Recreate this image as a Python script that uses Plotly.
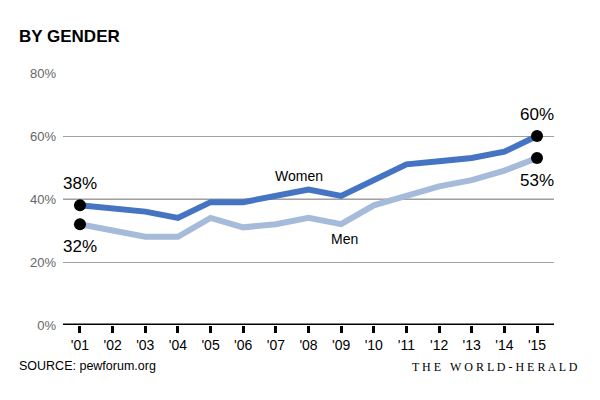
import plotly.graph_objects as go

years = ["'01", "'02", "'03", "'04", "'05", "'06", "'07", "'08", "'09", "'10", "'11", "'12", "'13", "'14", "'15"]
women = [38, 37, 36, 34, 39, 39, 41, 43, 41, 46, 51, 52, 53, 55, 60]
men = [32, 30, 28, 28, 34, 31, 32, 34, 32, 38, 41, 44, 46, 49, 53]
y_ticks = [0, 20, 40, 60, 80]
y_labels = ["0%", "20%", "40%", "60%", "80%"]

xi = list(range(len(years)))
FONT = "Liberation Sans, Arial, sans-serif"

fig = go.Figure()
fig.add_trace(go.Scatter(x=xi, y=men, mode="lines", line=dict(color="#a6bbd9", width=6), hoverinfo="skip"))
fig.add_trace(go.Scatter(x=xi, y=women, mode="lines", line=dict(color="#4574c2", width=6), hoverinfo="skip"))
ends = [0, len(years) - 1]
fig.add_trace(go.Scatter(x=[xi[i] for i in ends] * 2, y=[women[i] for i in ends] + [men[i] for i in ends],
                         mode="markers", marker=dict(color="black", size=12), hoverinfo="skip"))

fig.update_layout(
    width=600, height=400, showlegend=False,
    plot_bgcolor="white", paper_bgcolor="white",
    margin=dict(l=55, r=54, t=65, b=83, autoexpand=False),
    font=dict(family=FONT, size=14, color="black"),
    xaxis=dict(range=[-0.52, 14.52], tickvals=xi, ticktext=years, showgrid=False,
               showline=False, ticks="outside", ticklen=7, tickwidth=3, tickcolor="black",
               tickfont=dict(size=14, color="black"), zeroline=False, fixedrange=True),
    yaxis=dict(range=[0, 80], tickvals=y_ticks, ticktext=y_labels, showgrid=True,
               gridcolor="#a0a0a0", gridwidth=1, zeroline=False, showline=False,
               tickfont=dict(size=13, color="#666666"), ticks="", ticklabelstandoff=6,
               fixedrange=True),
)
# baseline
fig.add_shape(type="line", xref="paper", yref="y", x0=0, x1=1, y0=0, y1=0,
              line=dict(color="black", width=3))
fig.add_shape(type="line", xref="paper", yref="y", x0=0, x1=1, y0=40, y1=40,
              line=dict(color="#cccccc", width=2), layer="below")

ann = [
    dict(x=0, y=women[0], text="38%", yshift=22),
    dict(x=0, y=men[0], text="32%", yshift=-22),
    dict(x=14, y=women[-1], text="60%", yshift=22),
    dict(x=14, y=men[-1], text="53%", yshift=-22),
    dict(x=6.7, y=women[7], text="Women", yshift=14, size=14),
    dict(x=8.1, y=men[8], text="Men", yshift=-15, size=14),
]
for a in ann:
    fig.add_annotation(x=a["x"], y=a["y"], text=a["text"], yshift=a["yshift"], showarrow=False,
                       font=dict(size=a.get("size", 17), color="black", family=FONT))

fig.add_annotation(xref="paper", yref="paper", x=-0.0937, y=1.0, yshift=37, xanchor="left", yanchor="middle",
                   text="<b>BY GENDER</b>", showarrow=False,
                   font=dict(size=17, color="black", family=FONT))
fig.add_annotation(xref="paper", yref="paper", x=-0.0937, y=0, yshift=-41, xanchor="left", yanchor="middle",
                   text="SOURCE: pewforum.org", showarrow=False,
                   font=dict(size=12.5, color="black", family=FONT))
fig.add_annotation(xref="paper", yref="paper", x=1.053, y=0, yshift=-42, xanchor="right", yanchor="middle",
                   text="T H E&nbsp;&nbsp;&nbsp;W O R L D - H E R A L D", showarrow=False,
                   font=dict(size=12, color="black", family="Liberation Serif, DejaVu Serif, serif"))

fig.write_html("out.html")
